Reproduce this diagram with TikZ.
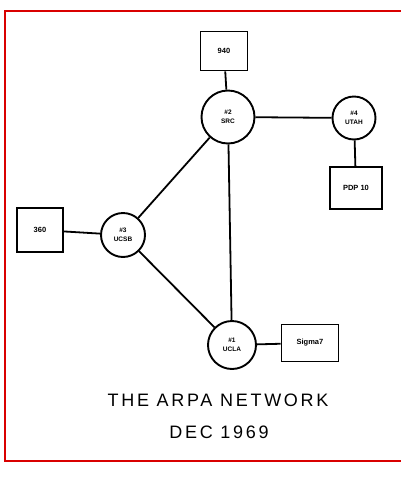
\documentclass[tikz,border=0pt]{standalone}
\usepackage{fontspec}
\setmainfont{Liberation Sans}
\newfontfamily\titlefont[LetterSpace=15]{Liberation Sans}
\begin{document}
\begin{tikzpicture}[x=1pt,y=-1pt,
  hostbox/.style={draw,line width=1.9pt,minimum width=#1,inner sep=0pt,font=\bfseries\fontsize{7.5}{8}\selectfont},
  imp/.style={draw,circle,line width=1.9pt,minimum size=#1,inner sep=0pt,align=center,font=\bfseries\fontsize{6.5}{9}\selectfont},
  link/.style={line width=1.8pt},
  frame/.style={draw=red!85!black,line width=1.6pt}]
\useasboundingbox (0,0) rectangle (401,480);
\draw[frame] (410,11) -- (5,11) -- (5,461) -- (410,461);
% hosts
\node[hostbox=47pt,minimum height=39pt] (h940) at (224,51) {940};
\node[hostbox=52pt,minimum height=42pt] (pdp) at (356,188) {PDP 10};
\node[hostbox=46pt,minimum height=44pt] (h360) at (40,230) {360};
\node[hostbox=57pt,minimum height=37pt] (sig) at (310,343) {Sigma7};
% IMPs
\node[imp=53pt] (src) at (228,117) {\#2\\SRC};
\node[imp=43pt] (utah) at (354,118) {\#4\\UTAH};
\node[imp=44pt] (ucsb) at (123,235) {\#3\\UCSB};
\node[imp=48pt] (ucla) at (232,345) {\#1\\UCLA};
% links
\draw[link] (h940) -- (src);
\draw[link] (src) -- (utah);
\draw[link] (utah) -- (pdp);
\draw[link] (src) -- (ucsb);
\draw[link] (src) -- (ucla);
\draw[link] (ucsb) -- (ucla);
\draw[link] (h360) -- (ucsb);
\draw[link] (ucla) -- (sig);
% title
\node[font=\titlefont\fontsize{18}{20}\selectfont] (t1) at (218,400) {THE ARPA NETWORK};
\node[font=\titlefont\fontsize{18}{20}\selectfont] (t2) at (219,432) {DEC 1969};
\end{tikzpicture}
\end{document}
